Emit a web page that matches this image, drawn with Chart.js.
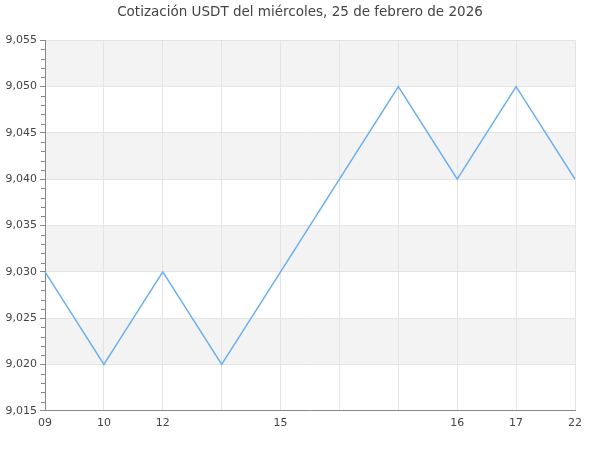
<!DOCTYPE html>
<html>
<head>
<meta charset="utf-8">
<script src="https://cdn.jsdelivr.net/npm/chart.js@4/dist/chart.umd.min.js"></script>
<style>
html,body{margin:0;padding:0;background:#fff}
#wrap{width:600px;height:450px}
</style>
</head>
<body>
<div id="wrap"><canvas id="c"></canvas></div>
<script>
const title = 'Cotización USDT del miércoles, 25 de febrero de 2026';
const labels = ['09','10','12','','15','','','16','17','22'];
const prices = [9.030,9.020,9.030,9.020,9.030,9.040,9.050,9.040,9.050,9.040];
const yMin = 9.015, yMax = 9.055, yStep = 0.005;

function fmt(v){return v.toFixed(3).replace('.',',')}

// bandas grises alternas + marcas menores en el eje y
const extras = {
  id:'extras',
  beforeDraw(chart){
    const {ctx, chartArea:a, scales:{y}} = chart;
    ctx.save();
    ctx.fillStyle = '#f3f3f3';
    for(let i=0;i<8;i++){
      if(i%2===0) continue;
      const lo = yMin+i*yStep, hi = lo+yStep;
      const t = y.getPixelForValue(hi), b = y.getPixelForValue(lo);
      ctx.fillRect(a.left, t, a.right-a.left, b-t);
    }
    ctx.restore();
  },
  afterDraw(chart){
    const {ctx, chartArea:a, scales:{y}} = chart;
    ctx.save();
    ctx.strokeStyle = '#888';
    ctx.lineWidth = 1;
    for(let i=0;i<=40;i++){
      if(i%5===0) continue;
      const p = Math.round(y.getPixelForValue(yMin+i*0.001))+0.5;
      ctx.beginPath(); ctx.moveTo(a.left-4,p); ctx.lineTo(a.left,p); ctx.stroke();
    }
    ctx.restore();
  }
};

Chart.defaults.font.family = '"DejaVu Sans", sans-serif';
Chart.defaults.color = '#444';

new Chart(document.getElementById('c'), {
  type:'line',
  data:{labels, datasets:[{data:prices, borderColor:'#6aaff0', borderWidth:1.5, pointRadius:0, tension:0, fill:false}]},
  options:{
    responsive:true, maintainAspectRatio:false, animation:false,
    layout:{padding:{left:0,right:0,top:0,bottom:14}},
    plugins:{
      legend:{display:false},
      tooltip:{enabled:false},
      title:{display:true, text:title, color:'#444', font:{size:13.5, weight:'normal'}, padding:{top:4,bottom:20}}
    },
    scales:{
      x:{
        offset:false,
        grid:{color:'#e4e4e4', drawTicks:false},
        border:{color:'#888'},
        ticks:{autoSkip:false, maxRotation:0, padding:6, font:{size:11}}
      },
      y:{
        min:yMin, max:yMax,
        afterFit(s){s.width = 45},
        grid:{color:'#e4e4e4', tickLength:5, tickColor:'#888'},
        border:{color:'#888'},
        ticks:{stepSize:yStep, padding:3, font:{size:11}, callback:v=>fmt(v)}
      },
      hueco:{
        position:'right', min:0, max:1,
        afterFit(s){s.width = 25},
        grid:{display:false}, border:{display:false}, ticks:{display:false}
      }
    }
  },
  plugins:[extras]
});
</script>
</body>
</html>
